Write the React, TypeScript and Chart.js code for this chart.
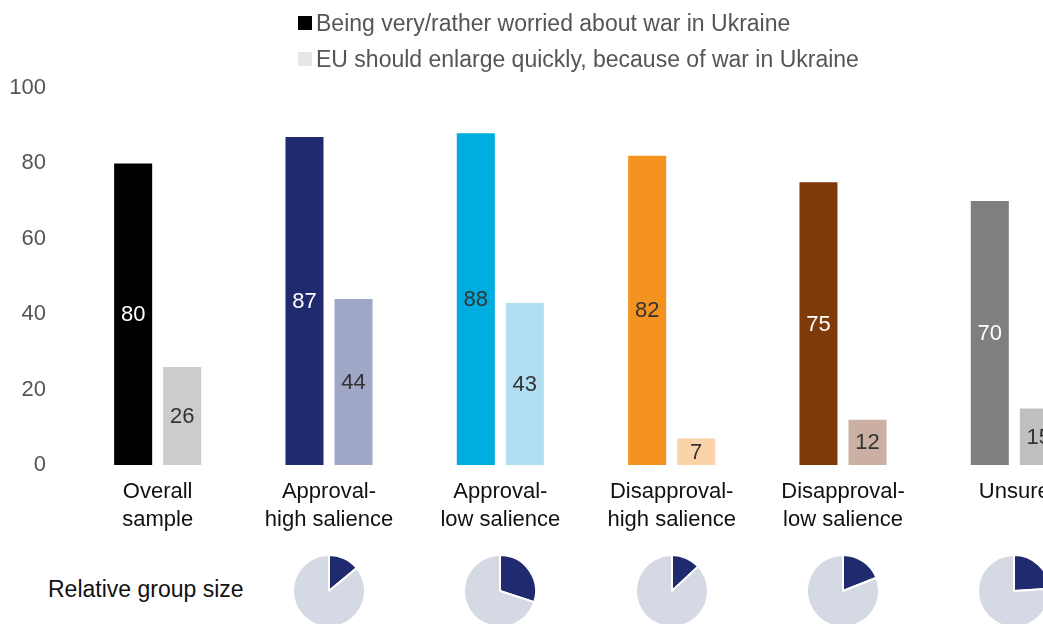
import React, { useEffect, useRef } from "react";
import { Chart, registerables } from "chart.js";

Chart.register(...registerables);

const categories: string[][] = [
  ["Overall", "sample"],
  ["Approval-", "high salience"],
  ["Approval-", "low salience"],
  ["Disapproval-", "high salience"],
  ["Disapproval-", "low salience"],
  ["Unsure"],
];
const seriesNames = [
  "Being very/rather worried about war in Ukraine",
  "EU should enlarge quickly, because of war in Ukraine",
];
const worried = [80, 87, 88, 82, 75, 70];
const enlarge = [26, 44, 43, 7, 12, 15];
const yTicks = [0, 20, 40, 60, 80, 100];
// relative group size (%) for categories 1..5 (no pie for the overall sample)
const pieCategoryIndex = [1, 2, 3, 4, 5];
const groupShare = [14, 30, 13, 19, 24];
const groupSizeLabel = "Relative group size";

const worriedColors = ["#000000", "#202a6e", "#00ade1", "#f3921f", "#7f3a0a", "#7f7f7f"];
const enlargeColors = ["#cccccc", "#a1a7c7", "#b2def2", "#fbd3a8", "#cbafa2", "#bfbfbf"];
const worriedLabelColors = ["#ffffff", "#ffffff", "#333333", "#333333", "#ffffff", "#ffffff"];
const enlargeLabelColors = ["#333333", "#333333", "#333333", "#333333", "#333333", "#333333"];
const legendSwatches = ["#000000", "#e6e6e6"];
const pieColors = ["#202a6e", "#d5d9e3"];

const FONT = '"Liberation Sans", Arial, Helvetica, sans-serif';

const valueLabels = {
  id: "valueLabels",
  afterDatasetsDraw(chart: any) {
    const ctx = chart.ctx;
    const colorSets = [worriedLabelColors, enlargeLabelColors];
    chart.data.datasets.forEach((ds: any, di: number) => {
      const meta = chart.getDatasetMeta(di);
      meta.data.forEach((bar: any, i: number) => {
        const { x, y, base } = bar.getProps(["x", "y", "base"], true);
        ctx.save();
        ctx.fillStyle = colorSets[di][i];
        ctx.font = `22px ${FONT}`;
        ctx.textAlign = "center";
        ctx.textBaseline = "middle";
        ctx.fillText(String(ds.data[i]), x, (y + base) / 2 + 1);
        ctx.restore();
      });
    });
  },
};

export default function App() {
  const barRef = useRef<HTMLCanvasElement | null>(null);
  const pieRefs = useRef<(HTMLCanvasElement | null)[]>([]);

  useEffect(() => {
    const charts: Chart[] = [];
    const bar = new Chart(barRef.current!, {
      type: "bar",
      data: {
        labels: categories,
        datasets: [
          { label: seriesNames[0], data: worried, backgroundColor: worriedColors },
          { label: seriesNames[1], data: enlarge, backgroundColor: enlargeColors },
        ],
      },
      options: {
        responsive: false,
        animation: false,
        devicePixelRatio: 1,
        layout: { padding: { top: 88, left: 0, right: 0, bottom: 0 } },
        datasets: { bar: { categoryPercentage: 0.5725, barPercentage: 0.7755 } },
        plugins: { legend: { display: false }, tooltip: { enabled: false } },
        scales: {
          x: {
            grid: { display: false },
            border: { display: false },
            ticks: {
              color: "#111111",
              font: { family: FONT, size: 22, lineHeight: 1.28 },
              padding: 5,
              maxRotation: 0,
              autoSkip: false,
            },
            afterFit: (s: any) => {
              s.height = 75;
            },
          },
          y: {
            min: 0,
            max: 100,
            grid: { display: false },
            border: { display: false },
            afterBuildTicks: (s: any) => {
              s.ticks = yTicks.map((v) => ({ value: v }));
            },
            ticks: {
              color: "#555555",
              font: { family: FONT, size: 22 },
              padding: 18,
            },
            afterFit: (s: any) => {
              s.width = 72;
            },
          },
        },
      },
      plugins: [valueLabels],
    });
    charts.push(bar);

    const xs = bar.scales.x;
    pieCategoryIndex.forEach((ci, k) => {
      const cv = pieRefs.current[k];
      if (!cv) return;
      cv.style.left = `${xs.getPixelForValue(ci) - 40}px`;
      const pie = new Chart(cv, {
        type: "pie",
        data: {
          labels: ["group", "rest"],
          datasets: [
            {
              data: [groupShare[k], 100 - groupShare[k]],
              backgroundColor: pieColors,
              borderColor: "#ffffff",
              borderWidth: 2,
            },
          ],
        },
        options: {
          responsive: false,
          animation: false,
          devicePixelRatio: 1,
          layout: { padding: 3 },
          plugins: { legend: { display: false }, tooltip: { enabled: false } },
        },
      });
      charts.push(pie);
    });

    return () => charts.forEach((c) => c.destroy());
  }, []);

  return (
    <div
      style={{
        position: "fixed",
        left: 0,
        top: 0,
        width: 1043,
        height: 624,
        overflow: "hidden",
        background: "#ffffff",
        fontFamily: FONT,
      }}
    >
      <canvas
        ref={barRef}
        width={1100}
        height={540}
        style={{ position: "absolute", left: 0, top: 0, width: 1100, height: 540 }}
      />
      <div style={{ position: "absolute", left: 298, top: 5 }}>
        {seriesNames.map((name, i) => (
          <div
            key={name}
            style={{ display: "flex", alignItems: "center", height: 36, color: "#555555", fontSize: 23, whiteSpace: "nowrap" }}
          >
            <span style={{ display: "inline-block", width: 14, height: 14, background: legendSwatches[i], marginRight: 4 }} />
            <span>{name}</span>
          </div>
        ))}
      </div>
      <div
        style={{ position: "absolute", left: 48, top: 575, fontSize: 23, color: "#111111", lineHeight: "28px", whiteSpace: "nowrap" }}
      >
        {groupSizeLabel}
      </div>
      {pieCategoryIndex.map((ci, k) => (
        <canvas
          key={ci}
          ref={(el) => {
            pieRefs.current[k] = el;
          }}
          width={80}
          height={80}
          style={{ position: "absolute", top: 551, left: 0, width: 80, height: 80 }}
        />
      ))}
    </div>
  );
}
